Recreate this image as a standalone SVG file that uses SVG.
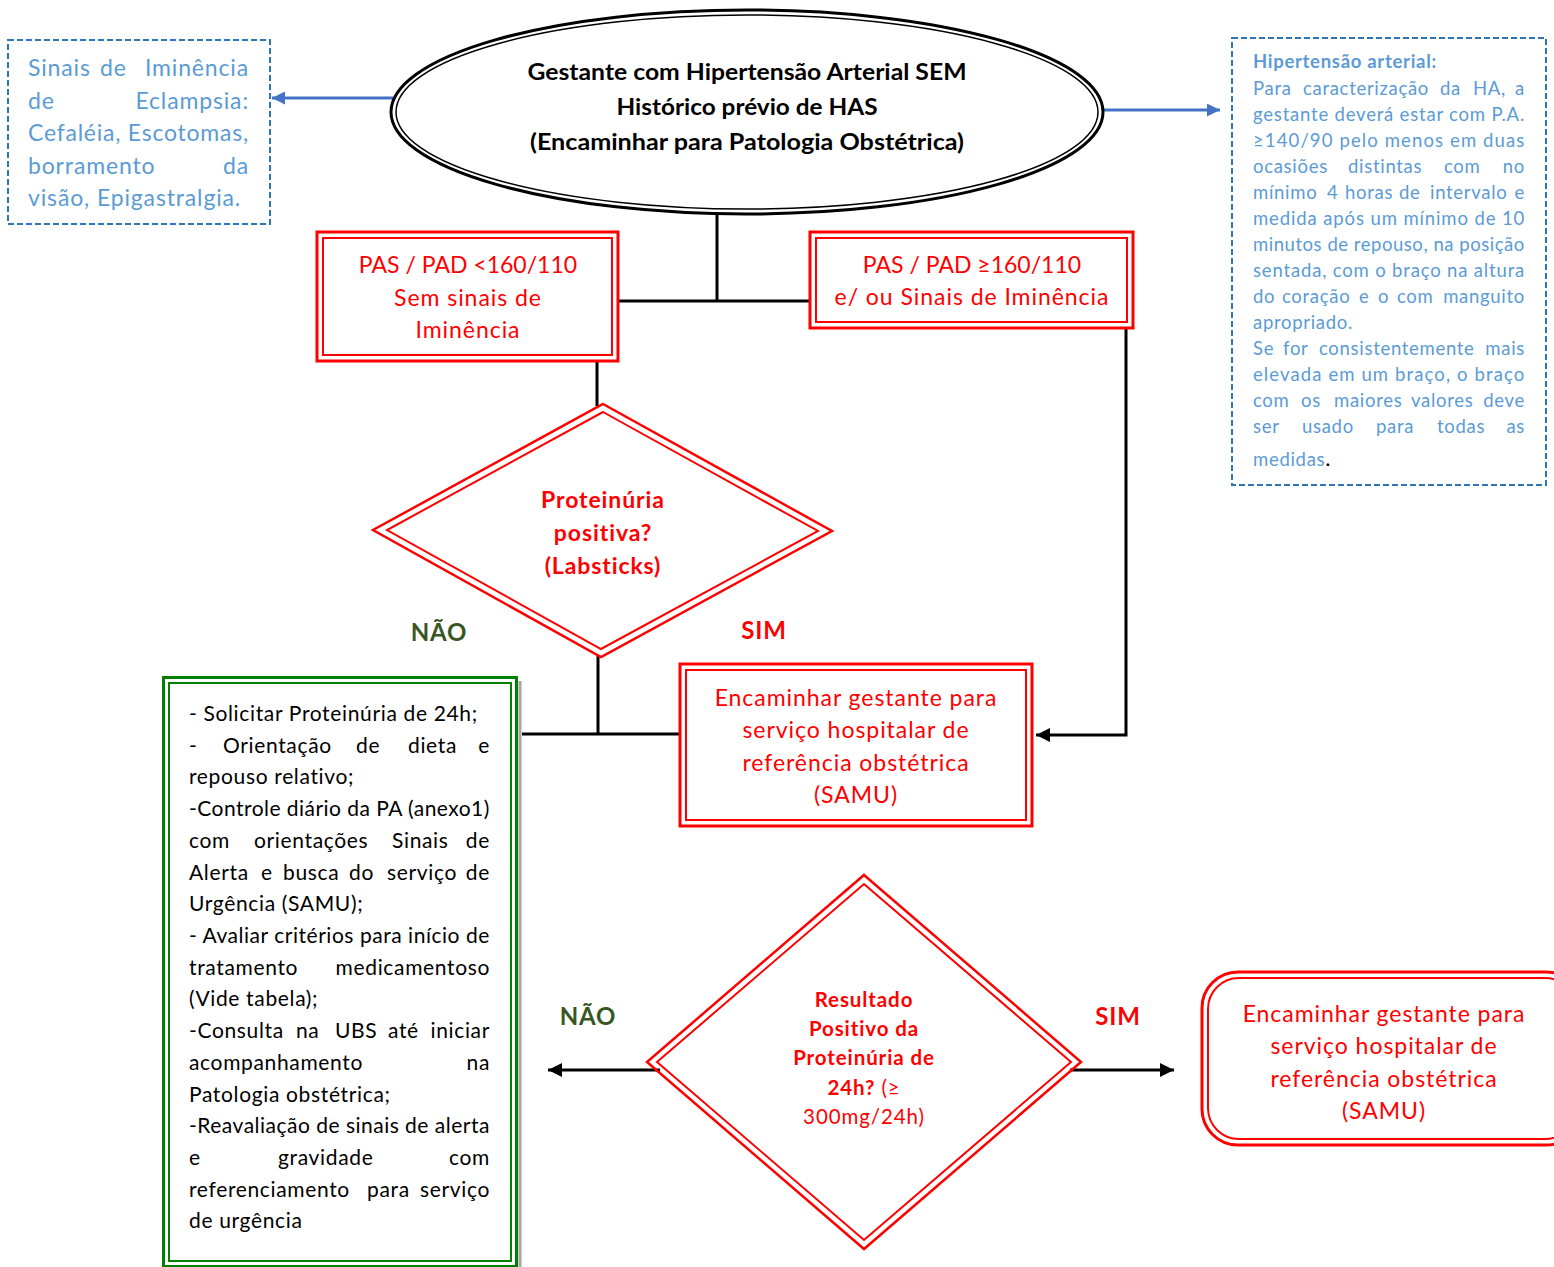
<svg xmlns="http://www.w3.org/2000/svg" width="1554" height="1267" viewBox="0 0 1554 1267">
  <style>
    text { font-family: Lato, "Open Sans", "Liberation Sans", sans-serif; }
    .info { fill: #5b9bd5; font-size: 23px; letter-spacing: 0.85px; }
    .note { fill: #5b9bd5; font-size: 18.5px; letter-spacing: 0.7px; }
    .dash { fill: none; stroke: #2e75b6; stroke-width: 2; stroke-dasharray: 6 3; }
    .red { fill: #ff0000; }
    .box { font-size: 23px; letter-spacing: 0.95px; }
    .redbox { fill: none; stroke: #ff0000; }
    .blk { fill: #000; }
    .wire { fill: none; stroke: #000; stroke-width: 3; }
    .blue { fill: none; stroke: #4472c4; stroke-width: 3; }
    .body { font-size: 21px; fill: #000; letter-spacing: 0.65px; }
    .lbl { font-size: 24px; font-weight: bold; letter-spacing: 0.8px; }
  </style>
  <defs>
    <marker id="ah" viewBox="0 0 10 10" refX="10" refY="5" markerWidth="15" markerHeight="14" markerUnits="userSpaceOnUse" orient="auto">
      <path d="M0 0 L10 5 L0 10 z" fill="#000"/>
    </marker>
    <marker id="ahb" viewBox="0 0 10 10" refX="10" refY="5" markerWidth="14" markerHeight="13" markerUnits="userSpaceOnUse" orient="auto">
      <path d="M0 0 L10 5 L0 10 z" fill="#4472c4"/>
    </marker>
  </defs>

  <rect width="1554" height="1267" fill="#fff"/>

  <!-- connectors -->
  <g id="connectors">
    <path class="blue" d="M393 98 H272" marker-end="url(#ahb)"/>
    <path class="blue" d="M1103 110 H1220" marker-end="url(#ahb)"/>
    <path class="wire" d="M717 213 V301"/>
    <path class="wire" d="M619 301 H809"/>
    <path class="wire" d="M1126 329 V735 H1036" marker-end="url(#ah)"/>
    <path class="wire" d="M597 361 V406"/>
    <path class="wire" d="M598 655 V734"/>
    <path class="wire" d="M522 734 H680"/>
    <path class="wire" d="M660 1070 H548" marker-end="url(#ah)"/>
    <path class="wire" d="M1070 1070 H1174" marker-end="url(#ah)"/>
  </g>

  <!-- warning signs note -->
  <g id="sinais">
    <rect class="dash" x="8" y="40" width="262" height="184"/>
    <g class="info">
      <text x="28" y="76">Sinais</text>
      <text x="100" y="76">de</text>
      <text x="249" y="76" text-anchor="end">Iminência</text>
      <text x="28" y="109">de</text>
      <text x="249" y="109" text-anchor="end">Eclampsia:</text>
      <text x="28" y="141" textLength="221" lengthAdjust="spacing">Cefaléia, Escotomas,</text>
      <text x="28" y="174">borramento</text>
      <text x="249" y="174" text-anchor="end">da</text>
      <text x="28" y="206">visão, Epigastralgia.</text>
    </g>
  </g>

  <!-- start ellipse -->
  <g id="inicio">
    <ellipse cx="747" cy="112" rx="356" ry="102" fill="#fff" stroke="#000" stroke-width="3"/>
    <ellipse cx="747" cy="112" rx="351" ry="97" fill="none" stroke="#000" stroke-width="1.5"/>
    <g class="blk" font-size="22" font-weight="bold" text-anchor="middle">
      <text x="747" y="80" textLength="439" lengthAdjust="spacingAndGlyphs">Gestante com Hipertensão Arterial SEM</text>
      <text x="747" y="115" textLength="261" lengthAdjust="spacingAndGlyphs">Histórico prévio de HAS</text>
      <text x="747" y="150" textLength="434" lengthAdjust="spacingAndGlyphs">(Encaminhar para Patologia Obstétrica)</text>
    </g>
  </g>

  <!-- hypertension definition note -->
  <g id="definicao">
    <rect class="dash" x="1232" y="38" width="314" height="447"/>
    <g class="note">
      <text x="1253" y="68" font-weight="bold">Hipertensão arterial:</text>
      <text x="1253" y="95">Para</text><text x="1303" y="95">caracterização</text><text x="1440" y="95">da</text><text x="1473" y="95">HA,</text><text x="1525" y="95" text-anchor="end">a</text>
      <text x="1253" y="121" textLength="272" lengthAdjust="spacing">gestante deverá estar com P.A.</text>
      <text x="1253" y="147" textLength="272" lengthAdjust="spacing">≥140/90 pelo menos em duas</text>
      <text x="1253" y="173">ocasiões</text><text x="1348" y="173">distintas</text><text x="1444" y="173">com</text><text x="1525" y="173" text-anchor="end">no</text>
      <text x="1253" y="199">mínimo</text><text x="1327" y="199">4</text><text x="1345" y="199">horas</text><text x="1399" y="199">de</text><text x="1430" y="199">intervalo</text><text x="1525" y="199" text-anchor="end">e</text>
      <text x="1253" y="225" textLength="272" lengthAdjust="spacing">medida após um mínimo de 10</text>
      <text x="1253" y="251" textLength="272" lengthAdjust="spacing">minutos de repouso, na posição</text>
      <text x="1253" y="277" textLength="272" lengthAdjust="spacing">sentada, com o braço na altura</text>
      <text x="1253" y="303">do</text><text x="1282" y="303">coração</text><text x="1359" y="303">e</text><text x="1378" y="303">o</text><text x="1397" y="303">com</text><text x="1525" y="303" text-anchor="end">manguito</text>
      <text x="1253" y="329">apropriado.</text>
      <text x="1253" y="355">Se</text><text x="1283" y="355">for</text><text x="1319" y="355">consistentemente</text><text x="1525" y="355" text-anchor="end">mais</text>
      <text x="1253" y="381" textLength="272" lengthAdjust="spacing">elevada em um braço, o braço</text>
      <text x="1253" y="407">com</text><text x="1301" y="407">os</text><text x="1334" y="407">maiores</text><text x="1411" y="407">valores</text><text x="1525" y="407" text-anchor="end">deve</text>
      <text x="1253" y="433">ser</text><text x="1302" y="433">usado</text><text x="1376" y="433">para</text><text x="1437" y="433">todas</text><text x="1525" y="433" text-anchor="end">as</text>
      <text x="1253" y="466">medidas<tspan fill="#000" font-size="22">.</tspan></text>
    </g>
  </g>

  <!-- BP below 160/110 -->
  <g id="pas-menor">
    <rect class="redbox" x="317" y="232" width="301" height="129" stroke-width="3"/>
    <rect class="redbox" x="323" y="238" width="289" height="117" stroke-width="2"/>
    <g class="red box" text-anchor="middle">
      <text x="468" y="273" letter-spacing="0">PAS / PAD &lt;160/110</text>
      <text x="468" y="306">Sem sinais de</text>
      <text x="468" y="338">Iminência</text>
    </g>
  </g>

  <!-- BP at or above 160/110 -->
  <g id="pas-maior">
    <rect class="redbox" x="810" y="232" width="323" height="96" stroke-width="3"/>
    <rect class="redbox" x="816" y="238" width="311" height="84" stroke-width="2"/>
    <g class="red box" text-anchor="middle">
      <text x="972" y="273" letter-spacing="0">PAS / PAD ≥160/110</text>
      <text x="972" y="305">e/ ou Sinais de Iminência</text>
    </g>
  </g>

  <!-- dipstick decision -->
  <g id="labsticks">
    <polygon class="redbox" points="603,404 832,531 601,657 373,530" fill="#fff" stroke-width="2.5"/>
    <polygon class="redbox" points="603,412 818,531 601,649 387,530" stroke-width="2"/>
    <g class="red" font-size="23" font-weight="bold" text-anchor="middle" letter-spacing="0.9">
      <text x="603" y="508">Proteinúria</text>
      <text x="603" y="541">positiva?</text>
      <text x="603" y="574">(Labsticks)</text>
    </g>
  </g>

  <g id="rotulos">
    <text class="lbl" x="439" y="641" text-anchor="middle" fill="#375623">NÃO</text>
    <text class="lbl" x="764" y="639" text-anchor="middle" fill="#ff0000">SIM</text>
    <text class="lbl" x="588" y="1025" text-anchor="middle" fill="#375623">NÃO</text>
    <text class="lbl" x="1118" y="1025" text-anchor="middle" fill="#ff0000">SIM</text>
  </g>

  <!-- referral after positive dipstick -->
  <g id="encaminhar-1">
    <rect class="redbox" x="680" y="664" width="352" height="162" stroke-width="3"/>
    <rect class="redbox" x="686" y="670" width="340" height="150" stroke-width="2"/>
    <g class="red box" text-anchor="middle">
      <text x="856" y="706">Encaminhar gestante para</text>
      <text x="856" y="738">serviço hospitalar de</text>
      <text x="856" y="771">referência obstétrica</text>
      <text x="856" y="803">(SAMU)</text>
    </g>
  </g>

  <!-- outpatient care list -->
  <g id="conduta">
    <path d="M520 681 V1267" stroke="#a6a6a6" stroke-width="3" fill="none"/>
    <rect x="163.5" y="677.5" width="353" height="589" fill="none" stroke="#008000" stroke-width="3"/>
    <rect x="169" y="683" width="342" height="578" fill="none" stroke="#008000" stroke-width="2"/>
    <g class="body">
      <text x="189" y="721">- Solicitar Proteinúria de 24h;</text>
      <text x="189" y="753">-</text><text x="223" y="753">Orientação</text><text x="356" y="753">de</text><text x="408" y="753">dieta</text><text x="490" y="753" text-anchor="end">e</text>
      <text x="189" y="784">repouso relativo;</text>
      <text x="189" y="816" textLength="301" lengthAdjust="spacing">-Controle diário da PA (anexo1)</text>
      <text x="189" y="848">com</text><text x="254" y="848">orientações</text><text x="392" y="848">Sinais</text><text x="490" y="848" text-anchor="end">de</text>
      <text x="189" y="880">Alerta</text><text x="261" y="880">e</text><text x="283" y="880">busca</text><text x="349" y="880">do</text><text x="387" y="880">serviço</text><text x="490" y="880" text-anchor="end">de</text>
      <text x="189" y="911">Urgência (SAMU);</text>
      <text x="189" y="943" textLength="301" lengthAdjust="spacing">- Avaliar critérios para início de</text>
      <text x="189" y="975">tratamento</text><text x="490" y="975" text-anchor="end">medicamentoso</text>
      <text x="189" y="1006">(Vide tabela);</text>
      <text x="189" y="1038">-Consulta</text><text x="296" y="1038">na</text><text x="335" y="1038">UBS</text><text x="388" y="1038">até</text><text x="490" y="1038" text-anchor="end">iniciar</text>
      <text x="189" y="1070">acompanhamento</text><text x="490" y="1070" text-anchor="end">na</text>
      <text x="189" y="1102">Patologia obstétrica;</text>
      <text x="189" y="1133" textLength="301" lengthAdjust="spacing">-Reavaliação de sinais de alerta</text>
      <text x="189" y="1165">e</text><text x="278" y="1165">gravidade</text><text x="490" y="1165" text-anchor="end">com</text>
      <text x="189" y="1197">referenciamento</text><text x="367" y="1197">para</text><text x="490" y="1197" text-anchor="end">serviço</text>
      <text x="189" y="1228">de urgência</text>
    </g>
  </g>

  <!-- 24h proteinuria decision -->
  <g id="proteinuria-24h">
    <polygon class="redbox" points="864,875 1081,1062 864,1249 647,1062" fill="#fff" stroke-width="2.5"/>
    <polygon class="redbox" points="864,884 1071,1062 864,1240 657,1062" stroke-width="2"/>
    <g class="red" font-size="20.5" text-anchor="middle" letter-spacing="0.9">
      <text x="864" y="1007" font-weight="bold">Resultado</text>
      <text x="864" y="1036" font-weight="bold">Positivo da</text>
      <text x="864" y="1065" font-weight="bold">Proteinúria de</text>
      <text x="864" y="1095"><tspan font-weight="bold">24h?</tspan> (≥</text>
      <text x="864" y="1124">300mg/24h)</text>
    </g>
  </g>

  <!-- referral after positive 24h test -->
  <g id="encaminhar-2">
    <rect class="redbox" x="1202" y="972" width="380" height="173" rx="36" stroke-width="3"/>
    <rect class="redbox" x="1208" y="978" width="368" height="161" rx="31" stroke-width="2"/>
    <g class="red box" text-anchor="middle">
      <text x="1384" y="1022">Encaminhar gestante para</text>
      <text x="1384" y="1054">serviço hospitalar de</text>
      <text x="1384" y="1087">referência obstétrica</text>
      <text x="1384" y="1119">(SAMU)</text>
    </g>
  </g>
</svg>
